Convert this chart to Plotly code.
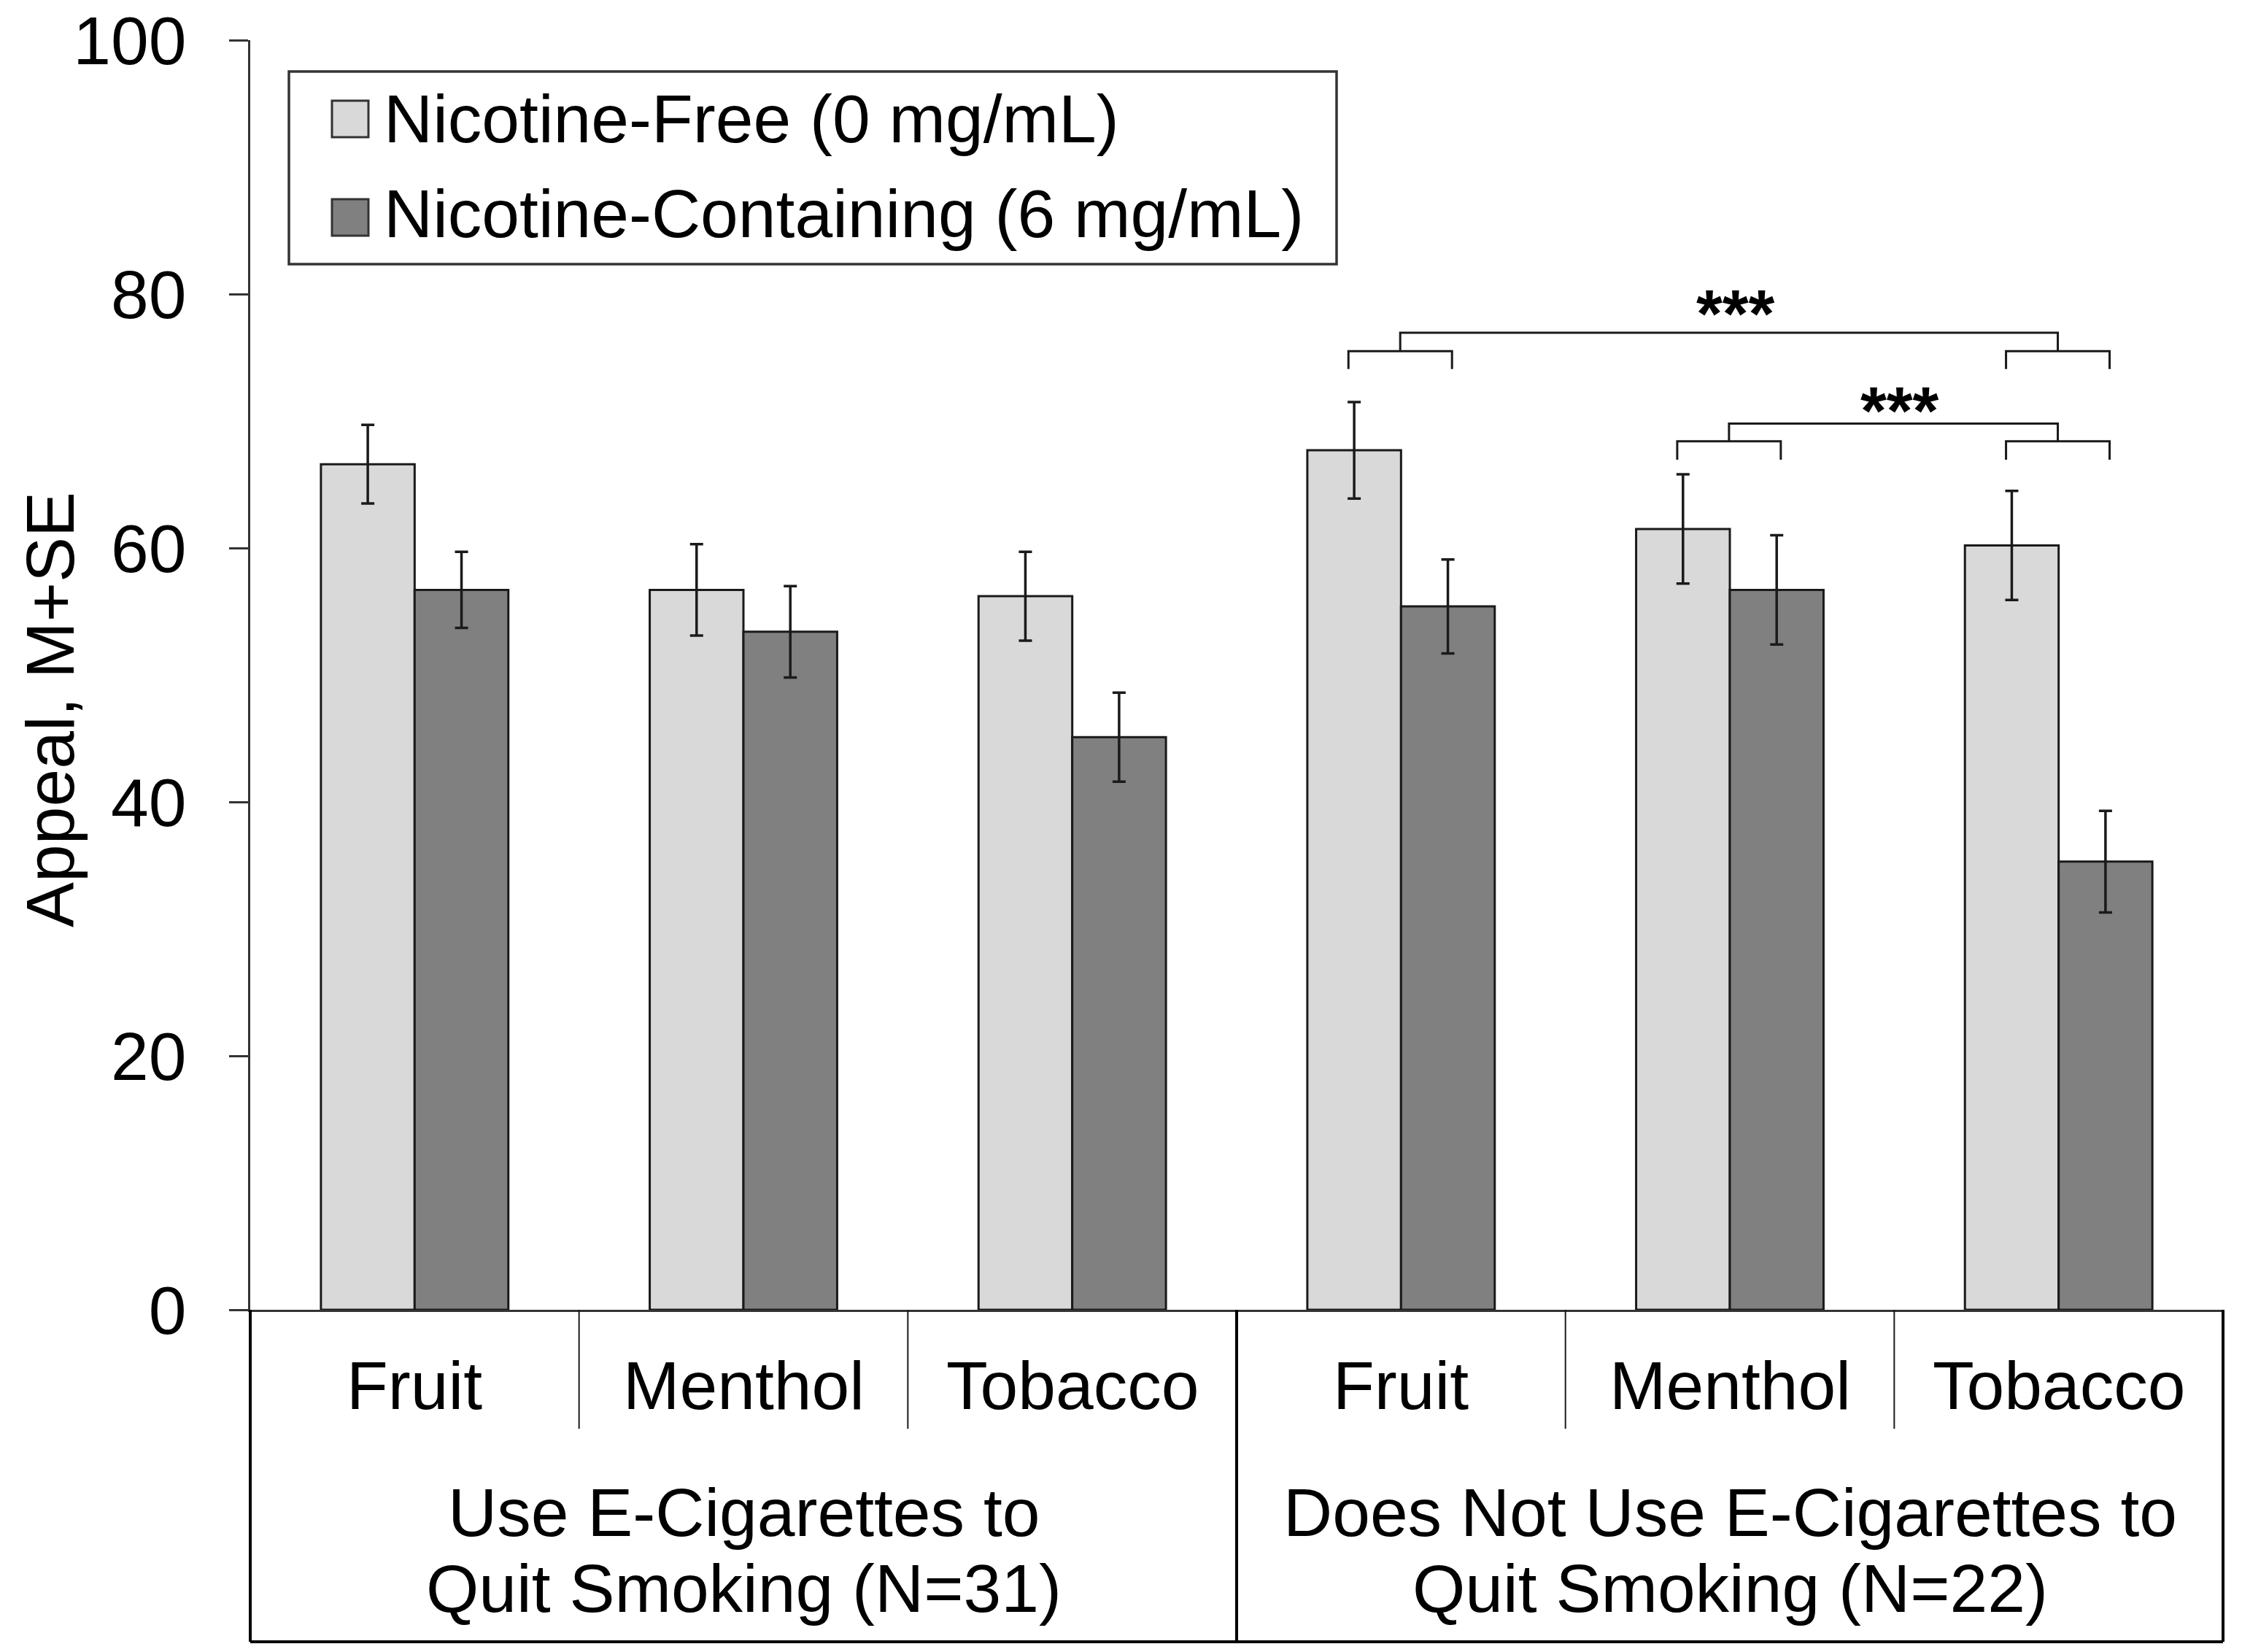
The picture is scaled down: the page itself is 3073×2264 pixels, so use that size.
import plotly.graph_objects as go

# ---------------- data ----------------
groups = ["Use E-Cigarettes to<br>Quit Smoking (N=31)",
          "Does Not Use E-Cigarettes to<br>Quit Smoking (N=22)"]
flavors = ["Fruit", "Menthol", "Tobacco"]
series_names = ["Nicotine-Free (0 mg/mL)", "Nicotine-Containing (6 mg/mL)"]

free_mean = [66.6, 56.7, 56.2, 67.7, 61.5, 60.2]
free_se = [3.1, 3.6, 3.5, 3.8, 4.3, 4.3]
nic_mean = [56.7, 53.4, 45.1, 55.4, 56.7, 35.3]
nic_se = [3.0, 3.6, 3.5, 3.7, 4.3, 4.0]

y_ticks = [0, 20, 40, 60, 80, 100]
y_title = "Appeal, M+SE"
sig_label = "***"
# comparisons: (slot a, slot b) within second group, both significant
comparisons = [(3, 5), (4, 5)]

# ---------------- style ----------------
FONT = "Liberation Sans, Arial, sans-serif"
FS = 93
LIGHT = "#d9d9d9"
DARK = "#808080"
EDGE = "#1a1a1a"
AXC = "#333333"

# body margin is removed by the post script, so page px == figure px
W, H = 3073, 2264
PLOT_L, PLOT_R, PLOT_T, PLOT_B = 343, 3047, 55, 1795
L = PLOT_L
T = PLOT_T
R = W - PLOT_R
B = H - PLOT_B
PW = PLOT_R - PLOT_L
PH = PLOT_B - PLOT_T

def px_x(px):
    return (px - PLOT_L) / PW

def px_y(py):
    return (PLOT_B - py) / PH

n = len(groups) * len(flavors)
xpos = list(range(n))
slot_labels = [f for _ in groups for f in flavors]

fig = go.Figure()
fig.add_trace(go.Bar(
    x=xpos, y=free_mean, name=series_names[0],
    marker=dict(color=LIGHT, line=dict(color=EDGE, width=3)),
    error_y=dict(type="data", array=free_se, color=EDGE, thickness=3.5, width=9),
    showlegend=False))
fig.add_trace(go.Bar(
    x=xpos, y=nic_mean, name=series_names[1],
    marker=dict(color=DARK, line=dict(color=EDGE, width=3)),
    error_y=dict(type="data", array=nic_se, color=EDGE, thickness=3.5, width=9),
    showlegend=False))

shapes = []
annotations = []

# bottom category box
def slot_edge(i):
    return i / n  # paper x of left edge of slot i

box_bottom = px_y(2250)
sub_bottom = px_y(1958)
line_box = dict(color="black", width=4)
for g in range(len(groups) + 1):
    xp = slot_edge(g * len(flavors))
    shapes.append(dict(type="line", xref="paper", yref="paper",
                       x0=xp, x1=xp, y0=0, y1=box_bottom, line=line_box))
shapes.append(dict(type="line", xref="paper", yref="paper",
                   x0=0, x1=1, y0=box_bottom, y1=box_bottom, line=line_box))
for i in range(1, n):
    if i % len(flavors) != 0:
        xp = slot_edge(i)
        shapes.append(dict(type="line", xref="paper", yref="paper",
                           x0=xp, x1=xp, y0=0, y1=sub_bottom,
                           line=dict(color=EDGE, width=2)))

# flavor labels
for i, lab in enumerate(slot_labels):
    annotations.append(dict(text=lab, xref="paper", yref="paper",
                            x=(i + 0.5) / n, y=px_y(1899),
                            xanchor="center", yanchor="middle", showarrow=False,
                            font=dict(family=FONT, size=FS, color="black")))
# group labels (two lines each)
for g, lab in enumerate(groups):
    xc = (g * len(flavors) + len(flavors) / 2) / n
    for k, line in enumerate(lab.split("<br>")):
        annotations.append(dict(text=line, xref="paper", yref="paper",
                                x=xc, y=px_y([2073, 2177][k]),
                                xanchor="center", yanchor="middle", showarrow=False,
                                font=dict(family=FONT, size=FS, color="black")))

# y-axis title
annotations.append(dict(text=y_title, xref="paper", yref="paper",
                        x=px_x(69), y=px_y(973), textangle=-90,
                        xanchor="center", yanchor="middle", showarrow=False,
                        font=dict(family=FONT, size=FS, color="black")))

# legend (manual)
shapes.append(dict(type="rect", xref="paper", yref="paper",
                   x0=px_x(396), x1=px_x(1832), y0=px_y(362), y1=px_y(98),
                   line=dict(color=AXC, width=3.5), fillcolor="white", layer="above"))
for k, (nm, col) in enumerate(zip(series_names, [LIGHT, DARK])):
    ys = [163, 298][k]
    yt = [163, 293][k]
    shapes.append(dict(type="rect", xref="paper", yref="paper",
                       x0=px_x(455), x1=px_x(505), y0=px_y(ys + 25), y1=px_y(ys - 25),
                       line=dict(color=AXC, width=3), fillcolor=col, layer="above"))
    annotations.append(dict(text=nm, xref="paper", yref="paper",
                            x=px_x(524), y=px_y(yt),
                            xanchor="left", yanchor="middle", showarrow=False,
                            font=dict(family=FONT, size=FS, color="black")))

# significance brackets
bw = dict(color=EDGE, width=3)
levels = [(74.1, 75.5, 76.95, 78.45), (66.95, 68.4, 69.8, 70.8)]
for (a, b), (leg, small, main, star) in zip(comparisons, levels):
    mids = []
    for s in (a, b):
        x0, x1 = s - 0.16, s + 0.155
        shapes.append(dict(type="path", xref="x", yref="y",
                           path=f"M {x0},{leg} L {x0},{small} L {x1},{small} L {x1},{leg}",
                           line=bw))
        mids.append((x0 + x1) / 2)
    shapes.append(dict(type="path", xref="x", yref="y",
                       path=f"M {mids[0]},{small} L {mids[0]},{main} L {mids[1]},{main} L {mids[1]},{small}",
                       line=bw))
    annotations.append(dict(text=f"<b>{sig_label}</b>", xref="x", yref="y",
                            x=(mids[0] + mids[1]) / 2 + 0.02, y=star,
                            xanchor="center", yanchor="middle", showarrow=False,
                            font=dict(family=FONT, size=92, color="black")))

fig.update_layout(
    width=W, height=H,
    margin=dict(l=L, r=R, t=T, b=B, pad=0),
    paper_bgcolor="white", plot_bgcolor="white",
    barmode="group", bargap=0.43, bargroupgap=0,
    shapes=shapes, annotations=annotations,
    font=dict(family=FONT, size=FS, color="black"),
)
fig.update_xaxes(range=[-0.5, n - 0.5], showticklabels=False, ticks="",
                 showgrid=False, zeroline=False, showline=True,
                 linecolor=AXC, linewidth=3, automargin=False)
fig.update_yaxes(range=[0, 100], tickvals=y_ticks, ticks="outside", ticklen=26,
                 tickwidth=3, tickcolor=AXC, showline=True, linecolor=AXC,
                 linewidth=3, showgrid=False, zeroline=False,
                 tickfont=dict(family=FONT, size=FS, color="black"),
                 ticklabelstandoff=40, ticklabeloverflow="allow",
                 automargin=False)

fig.write_html("out.html",
               config={"displayModeBar": False},
               post_script="document.body.style.margin='0';"
                           "document.documentElement.style.overflow='hidden';")
